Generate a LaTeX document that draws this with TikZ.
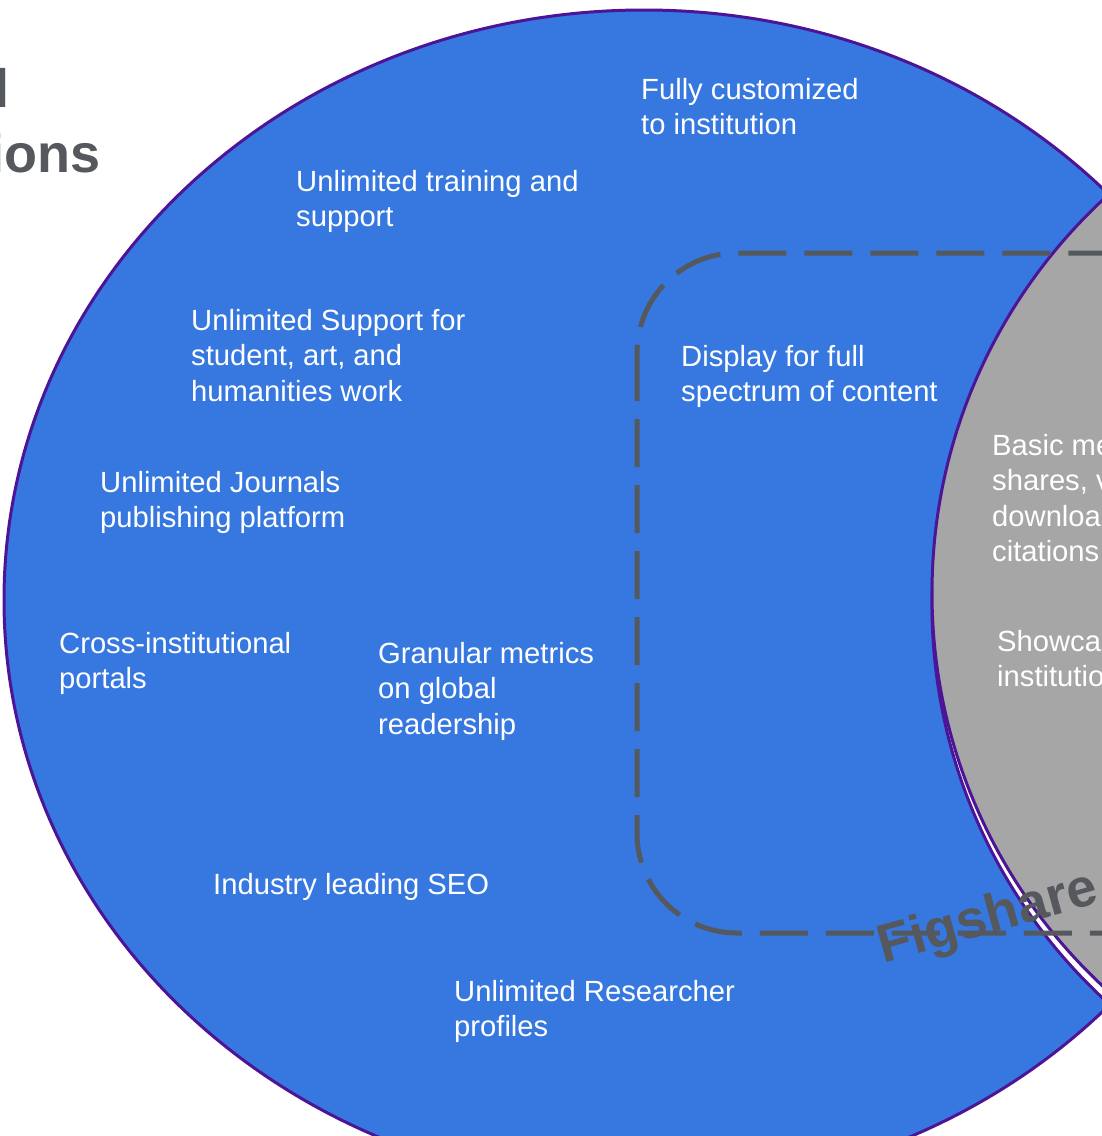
\documentclass[tikz,border=0pt]{standalone}
\usepackage{fontspec}
\setmainfont{Liberation Sans}
\usepackage{tikz}

\definecolor{venblue}{RGB}{54,120,224}
\definecolor{venline}{RGB}{76,20,150}
\definecolor{vengray}{RGB}{166,166,166}
\definecolor{darktext}{RGB}{85,88,92}

\begin{document}
\begin{tikzpicture}
[every node/.style={inner sep=0pt},
 item/.style={anchor=north west, align=left, text=white, font={\fontsize{29.2}{35.5}\selectfont}},
 heading/.style={text=darktext, font={\fontsize{54}{65}\selectfont\bfseries}},
 dashbox/.style={line width=5pt, color=darktext, dash pattern=on 48pt off 18pt, rounded corners=100pt}]
\useasboundingbox (0pt, 0pt) rectangle (1102pt, -1136pt);
\clip (0pt, 0pt) rectangle (1102pt, -1136pt);
\draw [fill=venblue, draw=venline, line width=3pt] (644pt, -600pt) ellipse [x radius=640pt, y radius=590pt];
\draw [fill=white, draw=venline, line width=3pt] (1470pt, -605pt) circle [radius=538pt];
\draw [fill=vengray, draw=venline, line width=3pt] (1470pt, -593pt) circle [radius=538pt];
\draw [dashbox] (637pt, -253pt) rectangle (1400pt, -933pt);
\node (l) [heading, anchor=base west] at (-6pt, -107pt) {l};
\node (ions) [heading, anchor=base east] at (101pt, -172pt) {ions};
\node (fully) [item] at (641pt, -78pt) {Fully customized\\to institution};
\node (training) [item] at (296pt, -170pt) {Unlimited training and\\support};
\node (humanities) [item] at (191pt, -309pt) {Unlimited Support for\\student, art, and\\humanities work};
\node (display) [item] at (681pt, -345pt) {Display for full\\spectrum of content};
\node (journals) [item] at (100pt, -471pt) {Unlimited Journals\\publishing platform};
\node (portals) [item] at (59pt, -632pt) {Cross-institutional\\portals};
\node (granular) [item] at (378pt, -642pt) {Granular metrics\\on global\\readership};
\node (seo) [item] at (213pt, -873pt) {Industry leading SEO};
\node (profiles) [item] at (454pt, -980pt) {Unlimited Researcher\\profiles};
\node (basic) [item] at (992pt, -434pt) {Basic me\\shares, v\\download\\citations};
\node (showcase) [item] at (997pt, -630pt) {Showcas\\institutio};
\node (figshare) [heading, anchor=base, rotate=15.5] at (992pt, -933pt) {Figshare};
\end{tikzpicture}
\end{document}
